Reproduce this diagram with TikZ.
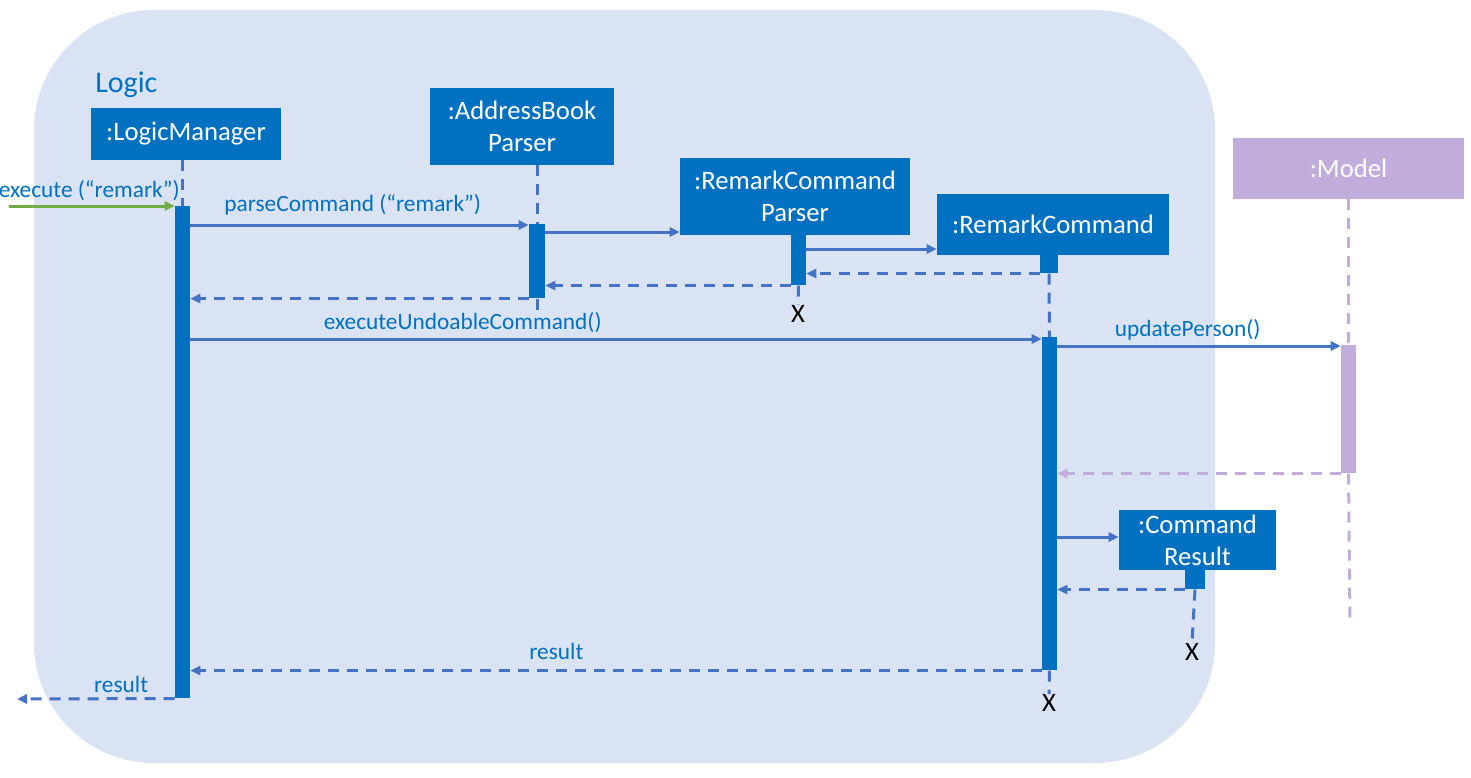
\documentclass[tikz,border=0pt]{standalone}
\usepackage{fontspec}
\setmainfont{Carlito}
\usetikzlibrary{arrows.meta,positioning}

\definecolor{logicbg}{HTML}{DAE3F3}
\definecolor{objblue}{HTML}{0070C0}
\definecolor{lineblue}{HTML}{4472C4}
\definecolor{modelpurple}{HTML}{C2ACDB}
\definecolor{callgreen}{HTML}{70AD47}

\newcommand{\objfont}{\fontsize{20}{24}\selectfont}
\newcommand{\lblfont}{\fontsize{17.5}{20}\selectfont}
\newcommand{\killfont}{\fontsize{20}{22}\selectfont}

\begin{document}
\begin{tikzpicture}
[x=0.75pt, y=-0.75pt, >={Triangle[length=7.5pt,width=6.75pt]},
box/.style 2 args={minimum width=#1*0.75pt, minimum height=#2*0.75pt},
obj/.style={fill=objblue, text=white, font=\objfont, align=center, inner sep=0pt},
bar/.style={fill=objblue, inner sep=0pt, anchor=north, minimum width=11.25pt, minimum height=#1*0.75pt},
msg/.style={->, draw=lineblue, line width=2.25pt},
ret/.style={msg, dash pattern=on 8.25pt off 6pt},
life/.style={draw=lineblue, line width=2.25pt, dash pattern=on 8.25pt off 6pt},
lbl/.style={text=objblue, font=\lblfont, anchor=base, yshift=7.5pt},
kill/.style={font=\killfont, inner sep=0pt, anchor=north}
]
  \useasboundingbox (0,0) rectangle (1471,778);
  \fill[logicbg, rounded corners=90pt] (34,10) rectangle (1215,763);

  % objects
  \node[text=objblue, font=\fontsize{22.5}{27}\selectfont, anchor=base west, inner sep=0pt] (title) at (95,92) {Logic};
  \node[obj, box={190}{52}] (lm) at (186,134) {:LogicManager};
  \node[obj, box={184}{77}] (abp) at (522,126.5) {:AddressBook\\Parser};
  \node[obj, box={230}{77}] (rcp) at (795,196.5) {:RemarkCommand\\Parser};
  \node[obj, box={232}{61}] (rc) at (1053,224.5) {:RemarkCommand};
  \node[obj, box={231}{61}, fill=modelpurple] (model) at (1348.5,168.5) {:Model};
  \node[obj, box={157}{60}] (cr) at (1197.5,540) {:Command\\Result};

  % activation bars
  \node[bar=492] (lmA) at (182.5,206) {};
  \node[bar=74, minimum width=12pt] (abpA) at (537,224) {};
  \node[bar=50] (rcpA) at (798.5,235) {};
  \node[bar=18, minimum width=13.5pt] (rcA1) at (1049,255) {};
  \node[bar=333] (rcA2) at (1049.5,337) {};
  \node[bar=128, fill=modelpurple] (mA) at (1348.5,345) {};
  \node[bar=19, minimum width=15pt] (crA) at (1195,570) {};

  % destroyed
  \node[kill] (rcpX) at (798,305) {X};
  \node[kill] (rcX) at (1049,694) {X};
  \node[kill] (crX) at (1192,643) {X};

  \coordinate (in) at (9,206);
  \coordinate (out) at (17,699);
  \coordinate (mEnd) at (1350,622);

  % lifelines
  \draw[life] (lm.south -| lmA.north) -- (lmA.north);
  \draw[life] (abp.south -| abpA.north) -- (abpA.north);
  \draw[life] (abpA.south) -- ++(0,12);
  \draw[life] (rcpA.south) -- (rcpX.north);
  \draw[life] (rcA1.south) -- (rcA2.north);
  \draw[life] (rcA2.south) -- (rcX.north);
  \draw[life] (crA.south) -- (crX.north);
  \draw[life, draw=modelpurple] (model.south -| mA.north) -- (mA.north);
  \draw[life, draw=modelpurple] (mA.south) -- (mEnd);

  % messages
  \draw[msg, draw=callgreen] (in) -- (lmA.north west)
    node[lbl, at start, anchor=base west, xshift=-12pt, yshift=-0.75pt] {execute (“remark”)};
  \draw[msg] (lmA.east |- 0,225) -- node[lbl, pos=.48, yshift=3pt] {parseCommand (“remark”)} (abpA.west |- 0,225);
  \draw[msg] (abpA.east |- 0,232) -- (rcp.west |- 0,232);
  \draw[msg] (rcpA.east |- 0,249) -- (rc.west |- 0,249);
  \draw[ret] (rcA1.south west) -- (rcpA.east |- rcA1.south west);
  \draw[ret] (rcpA.south west) -- (abpA.east |- rcpA.south west);
  \draw[ret] (abpA.south west) -- (lmA.east |- abpA.south west);
  \draw[msg] (lmA.east |- 0,339) -- node[lbl, pos=.32] {executeUndoableCommand()} (rcA2.west |- 0,339);
  \draw[msg] (rcA2.east |- 0,346) -- node[lbl, pos=.46] {updatePerson()} (mA.west |- 0,346);
  \draw[ret, draw=modelpurple] (mA.south west) -- (rcA2.east |- mA.south west);
  \draw[msg] (rcA2.east |- 0,537) -- (cr.west |- 0,537);
  \draw[ret] (crA.south west) -- (rcA2.east |- crA.south west);
  \draw[ret] (rcA2.south west) -- node[lbl, pos=.57, yshift=0.75pt] {result} (lmA.east |- rcA2.south west);
  \draw[ret] (lmA.south west) -- node[lbl, pos=.34, yshift=-3pt] {result} (out);
\end{tikzpicture}
\end{document}
